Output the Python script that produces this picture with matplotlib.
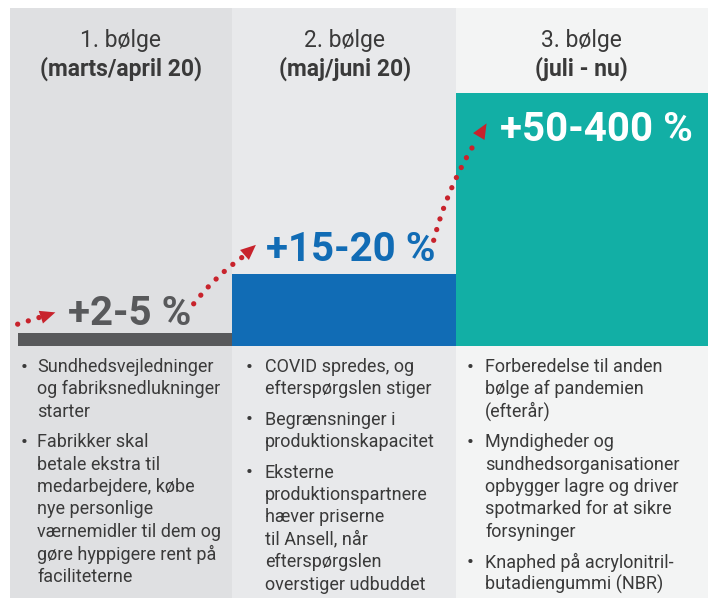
import matplotlib
matplotlib.use('Agg')
import matplotlib.pyplot as plt
from matplotlib import font_manager, rcParams
from matplotlib.patches import FancyArrowPatch

waves = ['1. bølge', '2. bølge', '3. bølge']
periods = ['(marts/april 20)', '(maj/juni 20)', '(juli - nu)']
growth_labels = ['+2-5 %', '+15-20 %', '+50-400 %']
bar_values = [5, 28.5, 100]
bullets = [
    ['Sundhedsvejledninger\nog fabriksnedlukninger\nstarter',
     'Fabrikker skal\nbetale ekstra til\nmedarbejdere, købe\nnye personlige\nværnemidler til dem og\ngøre hyppigere rent på\nfaciliteterne'],
    ['COVID spredes, og\nefterspørgslen stiger',
     'Begrænsninger i\nproduktionskapacitet',
     'Eksterne\nproduktionspartnere\nhæver priserne\ntil Ansell, når\nefterspørgslen\noverstiger udbuddet'],
    ['Forberedelse til anden\nbølge af pandemien\n(efterår)',
     'Myndigheder og\nsundhedsorganisationer\nopbygger lagre og driver\nspotmarked for at sikre\nforsyninger',
     'Knaphed på acrylonitril-\nbutadiengummi (NBR)'],
]

bg_colors = ['#DFE0E2', '#E8E9EB', '#F3F4F4']
bar_colors = ['#58595B', '#116CB5', '#12AFA5']
label_colors = ['#58595B', '#116CB5', 'white']
text_color = '#3A3A3A'
red = '#C8232C'


def _pick_font():
    for name in ['Liberation Sans Narrow', 'Roboto', 'DejaVu Sans']:
        try:
            font_manager.findfont(font_manager.FontProperties(family=name), fallback_to_default=False)
            return name
        except Exception:
            continue
    return 'DejaVu Sans'


W, H = 708, 598
col_left = [10, 232, 456]
col_width = [222, 224, 252]
bar_left = [18, 232, 456]
bar_width = [214, 224, 252]
base_y = 346
px_per_unit = 2.53

narrow = _pick_font()
rcParams['font.family'] = [narrow, 'DejaVu Sans']

fig = plt.figure(figsize=(W / 100, H / 100), dpi=100)
ax = fig.add_axes([0, 0, 1, 1])
ax.set_xlim(0, W)
ax.set_ylim(H, 0)
ax.axis('off')

# column backgrounds
ax.bar(col_left, H - 8, width=col_width, bottom=8, align='edge', color=bg_colors, zorder=0)
# growth bars (upwards = negative in the inverted pixel axis)
ax.bar(bar_left, [-v * px_per_unit for v in bar_values], width=bar_width, bottom=base_y,
       align='edge', color=bar_colors, zorder=1)

head_x = [121, 345, 581]
label_x = [130, 351, 596]
label_y = [314, 250, 130]
bullet_x = [24, 249, 470]
text_x = [37, 265, 485]
line_h = 22.4
item_gap = 8

for i in range(3):
    ax.text(head_x[i], 40, waves[i], ha='center', va='center', fontsize=16.5, color=text_color,
            family=['Roboto', 'DejaVu Sans'])
    ax.text(head_x[i], 69, periods[i], ha='center', va='center', fontsize=16.5, color=text_color,
            fontweight='bold', family=['Roboto', 'DejaVu Sans'])
    ax.text(label_x[i], label_y[i], growth_labels[i], ha='center', va='center', fontsize=29,
            fontweight='bold', color=label_colors[i], family=['Roboto', 'DejaVu Sans'], zorder=3)
    y = 367
    for item in bullets[i]:
        lines = item.split('\n')
        ax.text(bullet_x[i], y, '•', ha='center', va='center', fontsize=15, color=text_color)
        for ln in lines:
            ax.text(text_x[i], y, ln, ha='left', va='center', fontsize=13, color=text_color)
            y += line_h
        y += item_gap

# red dotted trend arrows
dots = dict(arrowstyle='-', color=red, lw=3.8, linestyle=(0, (0.01, 2.1)), capstyle='round')
head = dict(arrowstyle='-|>,head_length=0.55,head_width=0.24', color=red, lw=0, mutation_scale=20)
arrows = [
    ((15, 325), (44, 316), (42, 316.8), (58, 311.5), 0.0),
    ((192, 306), (244, 256), (245, 254.5), (258, 243), -0.08),
    ((433, 243), (478, 138), (478.5, 137), (488, 121), -0.08),
]
for a0, a1, h0, h1, rad in arrows:
    ax.add_patch(FancyArrowPatch(a0, a1, connectionstyle=f'arc3,rad={rad}', zorder=4, **dots))
    ax.add_patch(FancyArrowPatch(h0, h1, zorder=4, **head))

plt.savefig('out.png', dpi=100)
